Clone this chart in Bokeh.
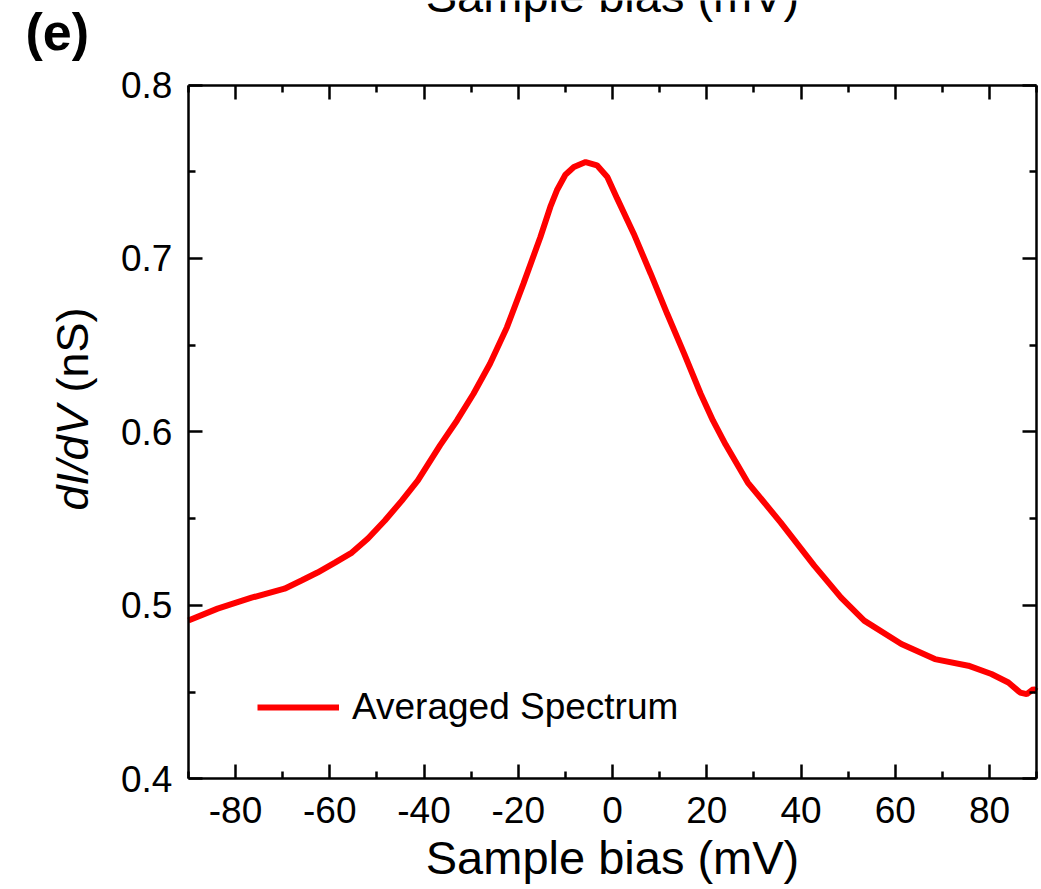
import math
from bokeh.plotting import figure
from bokeh.models import (Range1d, LinearAxis, FixedTicker, Label, Legend,
                          LegendItem, CustomJSTickFormatter, PrintfTickFormatter)
from bokeh.embed import file_html
from bokeh.resources import INLINE

# ---- data ----
bias_mv = [-90.0, -83.8, -76.6, -69.6, -66.0, -62.6, -58.9, -55.3, -51.9, -48.3,
           -44.7, -41.3, -36.6, -33.0, -29.5, -26.0, -22.4, -18.9, -15.3, -13.2,
           -11.8, -10.0, -8.2, -5.7, -3.3, -1.1, 1.0, 4.5, 8.1, 11.6,
           15.2, 18.7, 21.3, 24.0, 28.7, 35.7, 42.8, 48.5, 53.4, 61.3,
           68.4, 75.5, 80.4, 84.0, 86.5, 87.9, 89.3, 90.0]
didv_ns = [0.4912, 0.4981, 0.5044, 0.5096, 0.5143, 0.5189, 0.5246, 0.5304, 0.5385, 0.5489,
           0.5604, 0.5720, 0.5922, 0.6066, 0.6220, 0.6393, 0.6604, 0.6855, 0.7124, 0.7297,
           0.7393, 0.7483, 0.7527, 0.7556, 0.7537, 0.7470, 0.7345, 0.7143, 0.6912, 0.6681,
           0.6451, 0.6220, 0.6066, 0.5927, 0.5708, 0.5477, 0.5229, 0.5044, 0.4912, 0.4777,
           0.4690, 0.4652, 0.4604, 0.4555, 0.4497, 0.4488, 0.4517, 0.4505]
x_major = [-80, -60, -40, -20, 0, 20, 40, 60, 80]
x_minor = [-90, -70, -50, -30, -10, 10, 30, 50, 70, 90]
y_major = [0.4, 0.5, 0.6, 0.7, 0.8]
y_minor = [0.45, 0.55, 0.65, 0.75]
x_limits = (-90, 90)
y_limits = (0.4, 0.8)
series_label = "Averaged Spectrum"
x_title = "Sample bias (mV)"
panel_tag = "(e)"

FONT = "Liberation Sans"
W, H = 1041, 889

# the frame covers the whole canvas; the plot box is drawn with fixed-location axes
p = figure(frame_width=W, frame_height=H,
           x_range=Range1d(-129.87, 91.03), y_range=Range1d(0.33615, 0.84874),
           output_backend="svg", toolbar_location=None,
           x_axis_location=None, y_axis_location=None,
           min_border=0)
p.xgrid.visible = False
p.ygrid.visible = False
p.outline_line_color = None
p.background_fill_color = "white"
p.border_fill_color = "white"

bottom = LinearAxis(fixed_location=y_limits[0], bounds=x_limits)
top_ax = LinearAxis(fixed_location=y_limits[1], bounds=x_limits)
left = LinearAxis(fixed_location=x_limits[0], bounds=y_limits)
right_ax = LinearAxis(fixed_location=x_limits[1], bounds=y_limits)
p.add_layout(bottom, "below")
p.add_layout(top_ax, "above")
p.add_layout(left, "left")
p.add_layout(right_ax, "right")


def style(ax, ticks, minor):
    ax.ticker = FixedTicker(ticks=ticks, minor_ticks=minor)
    ax.axis_line_color = "black"
    ax.axis_line_width = 2.5
    ax.major_tick_in = 14
    ax.major_tick_out = 0
    ax.minor_tick_in = 7
    ax.minor_tick_out = 0
    ax.major_tick_line_color = "black"
    ax.minor_tick_line_color = "black"
    ax.major_tick_line_width = 2.5
    ax.minor_tick_line_width = 2.5
    ax.major_label_text_font = FONT
    ax.major_label_text_font_size = "37px"
    ax.major_label_text_color = "black"


for ax in (bottom, top_ax):
    style(ax, x_major, x_minor)
for ax in (left, right_ax):
    style(ax, y_major, y_minor)

bottom.formatter = PrintfTickFormatter(format="%d")
bottom.major_label_standoff = 18
bottom.axis_label = x_title
bottom.axis_label_text_font = FONT
bottom.axis_label_text_font_size = "47px"
bottom.axis_label_text_font_style = "normal"
bottom.axis_label_text_color = "black"
bottom.axis_label_standoff = 5
left.formatter = PrintfTickFormatter(format="%.1f")
left.major_label_standoff = 16

blank = CustomJSTickFormatter(code="return ''")
for ax in (top_ax, right_ax):
    ax.formatter = blank
    ax.major_label_standoff = 0

r = p.line(bias_mv, didv_ns, line_color="#ff0000", line_width=6)

legend = Legend(items=[LegendItem(label=series_label, renderers=[r])],
                location=(257, 161), border_line_color=None, background_fill_alpha=0,
                label_text_font=FONT, label_text_font_size="37px", label_text_color="black",
                glyph_width=82, glyph_height=40, label_height=40,
                label_standoff=13, padding=0, margin=0, spacing=0)
p.add_layout(legend)

# y-axis title with italic dI/dV (screen units: from the canvas bottom-left)
p.add_layout(Label(x=72, y=H - 510, x_units="screen", y_units="screen", text="dI/dV",
                   angle=math.pi / 2, text_font=FONT, text_font_style="italic",
                   text_font_size="45px", text_align="left", text_baseline="alphabetic",
                   text_color="black"))
p.add_layout(Label(x=72, y=H - 392, x_units="screen", y_units="screen", text="(nS)",
                   angle=math.pi / 2, text_font=FONT, text_font_style="normal",
                   text_font_size="45px", text_align="left", text_baseline="alphabetic",
                   text_color="black"))
# panel tag
p.add_layout(Label(x=25, y=H - 31, x_units="screen", y_units="screen", text=panel_tag,
                   text_font=FONT, text_font_style="bold", text_font_size="52px",
                   text_align="left", text_baseline="alphabetic", text_color="black"))
# clipped axis title of the panel above
p.add_layout(Label(x=612, y=H + 5, x_units="screen", y_units="screen", text=x_title,
                   text_font=FONT, text_font_size="47px", text_align="center",
                   text_baseline="alphabetic", text_color="black"))

open("out.html", "w").write(file_html(p, INLINE))
